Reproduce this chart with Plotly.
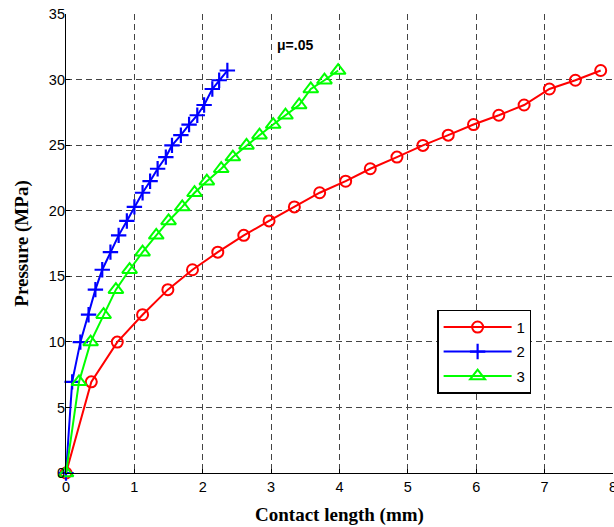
import plotly.graph_objects as go

pressure = [0, 6.95, 9.98, 12.07, 13.98, 15.5, 16.84, 18.12, 19.22, 20.29, 21.37,
            22.25, 23.2, 24.09, 24.98, 25.76, 26.57, 27.28, 28.06, 29.28, 29.95, 30.69]
length_1 = [0, 0.37, 0.75, 1.12, 1.49, 1.85, 2.22, 2.60, 2.97, 3.34, 3.71,
            4.09, 4.45, 4.84, 5.22, 5.59, 5.96, 6.33, 6.70, 7.07, 7.45, 7.82]
length_2 = [0, 0.09, 0.21, 0.33, 0.43, 0.53, 0.65, 0.77, 0.89, 1.00, 1.12,
            1.23, 1.34, 1.46, 1.55, 1.68, 1.80, 1.92, 2.02, 2.14, 2.24, 2.36]
length_3 = [0, 0.19, 0.36, 0.55, 0.73, 0.93, 1.12, 1.32, 1.50, 1.70, 1.88,
            2.06, 2.27, 2.44, 2.64, 2.83, 3.03, 3.21, 3.41, 3.58, 3.78, 3.98]
names = ["1", "2", "3"]
x_ticks = [0, 1, 2, 3, 4, 5, 6, 7, 8]
y_ticks = [0, 5, 10, 15, 20, 25, 30, 35]
annotation_text = "μ=.05"

fig = go.Figure()
fig.add_trace(go.Scatter(
    x=length_1, y=pressure, name=names[0], mode="lines+markers", legendgroup="a",
    line=dict(color="#ff0000", width=2),
    marker=dict(symbol="circle-open", size=11, color="#ff0000", line=dict(width=2)),
    cliponaxis=False))
fig.add_trace(go.Scatter(
    x=length_2, y=pressure, name=names[1], mode="lines+markers", legendgroup="b",
    line=dict(color="#0000ff", width=2),
    marker=dict(symbol="cross-thin", size=11, color="#0000ff", line=dict(width=2.2, color="#0000ff")),
    cliponaxis=False))
fig.add_trace(go.Scatter(
    x=length_3, y=pressure, name=names[2], mode="lines+markers", legendgroup="c",
    line=dict(color="#00ff00", width=2),
    marker=dict(symbol="triangle-up-open", size=13, color="#00ff00", line=dict(width=2)),
    cliponaxis=False))

fig.add_annotation(x=3.05, y=32.6, text="<b>" + annotation_text + "</b>", showarrow=False,
                   xanchor="left", yanchor="middle",
                   font=dict(family="Liberation Sans, Arial", size=14, color="black"))

axis_common = dict(
    showgrid=True, gridcolor="#444444", griddash="6px,4px", gridwidth=1,
    showline=True, linecolor="black", linewidth=1.2,
    ticks="inside", ticklen=4, tickcolor="black", tickwidth=1,
    tickfont=dict(family="Liberation Sans, Arial", size=14.5, color="black"),
    zeroline=False, mirror=False, automargin=False, ticklabeloverflow="allow",
)
fig.update_xaxes(range=[0, 8], tickvals=x_ticks, **axis_common,
                 title=dict(text="<b>Contact length (mm)</b>", standoff=14,
                            font=dict(family="Liberation Serif, Times New Roman", size=19, color="black")))
fig.update_yaxes(range=[0, 35], tickvals=y_ticks, **axis_common, ticklabelstandoff=-3,
                 title=dict(text="<b>Pressure (MPa)</b>", standoff=15,
                            font=dict(family="Liberation Serif, Times New Roman", size=19, color="black")))

fig.update_layout(
    width=614, height=527,
    margin=dict(l=66, r=1, t=14, b=54),
    plot_bgcolor="white", paper_bgcolor="white",
    legend=dict(x=0.679, y=0.356, xanchor="left", yanchor="top",
                bordercolor="black", borderwidth=1.2, bgcolor="white",
                font=dict(family="Liberation Sans, Arial", size=15, color="black"),
                tracegroupgap=2, itemwidth=68),
    showlegend=True,
)

fig.write_html("out.html", config={"displayModeBar": False},
               post_script="document.body.style.margin='0';document.body.style.overflow='hidden';")
